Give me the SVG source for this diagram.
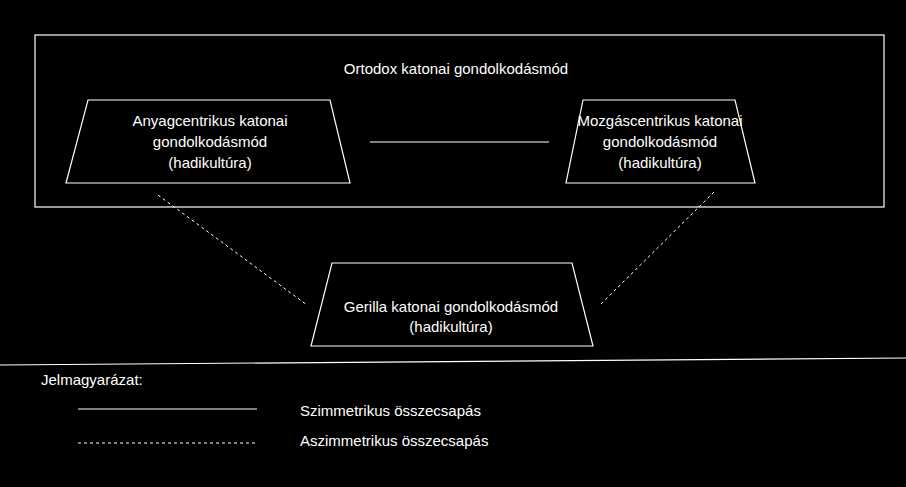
<svg xmlns="http://www.w3.org/2000/svg" width="906" height="487" viewBox="0 0 906 487">
<style>
text{font-family:"Liberation Sans",Arial,sans-serif;font-size:15px;fill:#fff}
.s{fill:none;stroke:#fff;stroke-width:1.2}
.d{fill:none;stroke:#fff;stroke-width:1;stroke-dasharray:3,3}
</style>
<rect width="906" height="487" fill="#000"/>
<g id="ortodox"><rect class="s" x="35" y="35" width="849" height="172"/>
<text x="456" y="74" text-anchor="middle">Ortodox katonai gondolkodásmód</text></g>
<g id="anyag"><polygon class="s" points="88,100 330,100 350,183 66,183"/>
<text text-anchor="middle" x="210" y="126">Anyagcentrikus katonai</text>
<text text-anchor="middle" x="210" y="147">gondolkodásmód</text>
<text text-anchor="middle" x="210" y="168">(hadikultúra)</text></g>
<g id="mozgas"><polygon class="s" points="583,100 735,100 755,183 566,183"/>
<text text-anchor="middle" x="660" y="126">Mozgáscentrikus katonai</text>
<text text-anchor="middle" x="660" y="147">gondolkodásmód</text>
<text text-anchor="middle" x="660" y="168">(hadikultúra)</text></g>
<g id="gerilla"><polygon class="s" points="332,263 572,263 593,346 311,346"/>
<text text-anchor="middle" x="451" y="312">Gerilla katonai gondolkodásmód</text>
<text text-anchor="middle" x="451" y="332">(hadikultúra)</text></g>
<g id="connectors">
<line class="s" x1="370" y1="142" x2="549" y2="142"/>
<line class="d" x1="158" y1="195" x2="307" y2="305"/>
<line class="d" x1="714" y1="192" x2="600" y2="305"/>
</g>
<g id="legend">
<line class="s" x1="0" y1="365" x2="906" y2="358"/>
<text x="41" y="385">Jelmagyarázat:</text>
<line class="s" x1="78" y1="409" x2="257" y2="409"/>
<text x="300" y="416">Szimmetrikus összecsapás</text>
<line class="d" x1="78" y1="443" x2="257" y2="443"/>
<text x="300" y="446">Aszimmetrikus összecsapás</text>
</g>
</svg>
